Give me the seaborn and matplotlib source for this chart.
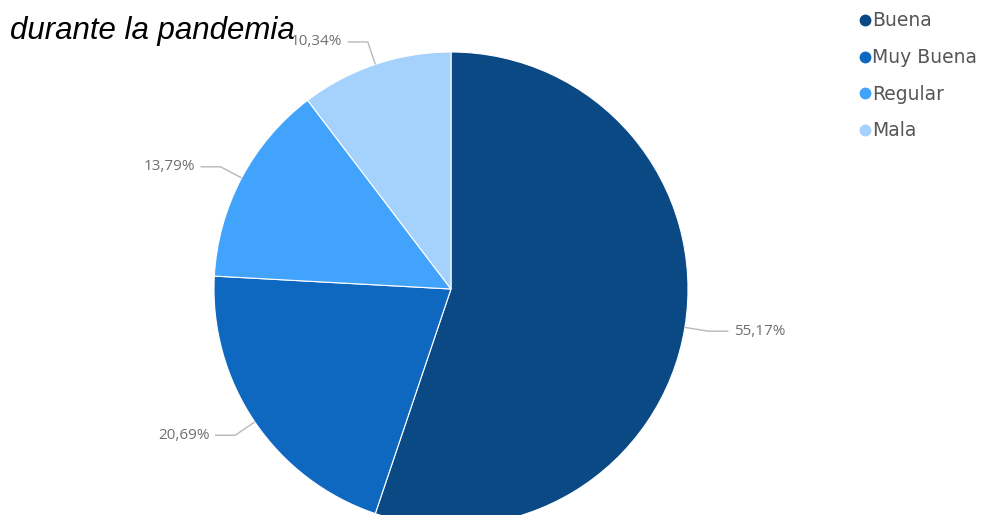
import numpy as np
import matplotlib
matplotlib.use('Agg')
import matplotlib.pyplot as plt
from matplotlib.lines import Line2D
import seaborn as sns

# datos del gráfico
categorias = ['Buena', 'Muy Buena', 'Regular', 'Mala']
porcentajes = [55.17, 20.69, 13.79, 10.34]
colores = ['#0A4983', '#0F68C0', '#41A3FB', '#A5D1FD']
titulo = 'durante la pandemia'

sns.set_style('white')
plt.rcParams['font.family'] = ['Liberation Sans', 'DejaVu Sans']

W, H = 984, 515
fig = plt.figure(figsize=(W / 100, H / 100), dpi=100)
ax = fig.add_axes([0, 0, 1, 1])

# centro y radio del pastel en píxeles
cx, cy, r = 451, 289, 237

wedges, _ = ax.pie(porcentajes, colors=colores, startangle=90, counterclock=False,
                   radius=1, center=(0, 0), frame=True,
                   wedgeprops=dict(edgecolor='white', linewidth=0.8))
ax.set_xlim(-cx / r, (W - cx) / r)
ax.set_ylim(-(H - cy) / r, cy / r)
ax.axis('off')

# etiquetas con líneas guía
for w, p in zip(wedges, porcentajes):
    ang = np.deg2rad((w.theta1 + w.theta2) / 2)
    x0, y0 = np.cos(ang), np.sin(ang)
    x1, y1 = 1.1 * x0, 1.1 * y0
    lado = 1 if x0 >= 0 else -1
    x2 = x1 + lado * 0.085
    ax.plot([x0, x1, x2], [y0, y1, y1], color='#b8b8b8', lw=1, solid_capstyle='butt')
    txt = f'{p:.2f}%'.replace('.', ',')
    ax.text(x2 + lado * 0.022, y1, txt, ha='left' if lado > 0 else 'right', va='center',
            fontsize=11, color='#707070', family=['Open Sans', 'DejaVu Sans'])

fig.text(10 / W, 1 - 39 / H, titulo, fontsize=22.5, style='italic', color='black',
         va='baseline', ha='left')

handles = [Line2D([], [], marker='o', linestyle='', markersize=7.5, color=c) for c in colores]
leg = fig.legend(handles, categorias, loc='upper left', bbox_to_anchor=(852 / W, 1 - 4 / H),
                 frameon=False, handlelength=0.6, handletextpad=0.05, labelspacing=0.94,
                 borderaxespad=0, prop={'family': 'DejaVu Sans', 'size': 13.5})
for t in leg.get_texts():
    t.set_color('#555555')

fig.savefig('out.png', dpi=100)
